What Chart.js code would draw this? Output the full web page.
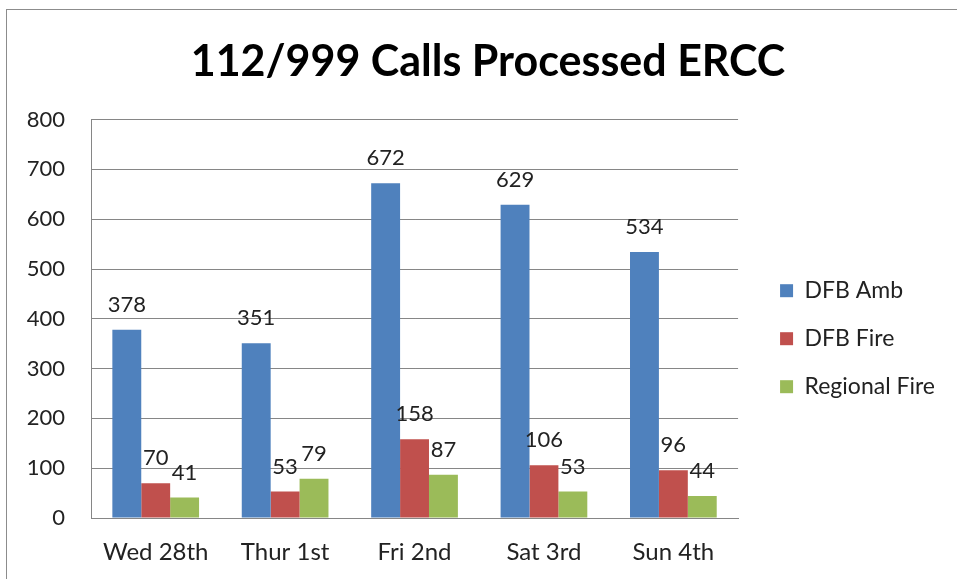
<!DOCTYPE html>
<html lang="en">
<head>
<meta charset="UTF-8">
<title>112/999 Calls Processed ERCC</title>
<script src="https://cdn.jsdelivr.net/npm/chart.js@4/dist/chart.umd.min.js"></script>
<style>
  body { margin: 0; background: #fff; }
  #wrap { position: relative; width: 957px; height: 579px; }
  #frame { position: absolute; left: 6px; top: 9px; width: 980px; height: 600px; border: 1px solid #8c8c8c; }
  canvas { position: absolute; left: 0; top: 0; }
</style>
</head>
<body>
<div id="wrap">
  <div id="frame"></div>
  <canvas id="myChart" width="957" height="579"></canvas>
</div>
<script>
// values
const days = ['Wed 28th', 'Thur 1st', 'Fri 2nd', 'Sat 3rd', 'Sun 4th'];
const dfbAmb = [378, 351, 672, 629, 534];
const dfbFire = [70, 53, 158, 106, 96];
const regionalFire = [41, 79, 87, 53, 44];

const FONT = 'Lato, "Open Sans", sans-serif';

// draw the value above each bar
const valueLabels = {
    id: 'valueLabels',
    afterDatasetsDraw(chart) {
        const ctx = chart.ctx;
        ctx.save();
        ctx.font = '22px ' + FONT;
        ctx.fillStyle = '#222';
        ctx.textAlign = 'center';
        ctx.textBaseline = 'alphabetic';
        chart.data.datasets.forEach((ds, i) => {
            chart.getDatasetMeta(i).data.forEach((bar, j) => {
                ctx.fillText(ds.data[j], bar.x, bar.y - 18);
            });
        });
        ctx.restore();
    }
};

// title sits centred on the outer frame, a bit right of the canvas centre
const titleShift = {
    id: 'titleShift',
    afterLayout(chart) {
        if (chart.titleBlock) chart.titleBlock.left += 31;
    }
};

const ctx = document.getElementById('myChart');
const myChart = new Chart(ctx, {
    type: 'bar',
    data: {
        labels: days,
        datasets: [
            { label: 'DFB Amb', data: dfbAmb, backgroundColor: '#4F81BD' },
            { label: 'DFB Fire', data: dfbFire, backgroundColor: '#C0504D' },
            { label: 'Regional Fire', data: regionalFire, backgroundColor: '#9BBB59' }
        ]
    },
    plugins: [valueLabels, titleShift],
    options: {
        responsive: false,
        animation: false,
        layout: { padding: { left: 0, right: 12, top: 0, bottom: 16 } },
        datasets: {
            bar: { barPercentage: 1, categoryPercentage: 0.67 }
        },
        scales: {
            x: {
                afterFit: s => { s.height = 45; },
                grid: { display: false, drawTicks: false },
                border: { color: '#868686' },
                ticks: { color: '#222', font: { family: FONT, size: 24 }, padding: 20 }
            },
            y: {
                min: 0,
                max: 800,
                afterFit: s => { s.width = 91; },
                grid: { color: '#868686', drawTicks: false },
                border: { color: '#868686' },
                ticks: { stepSize: 100, color: '#222', font: { family: FONT, size: 22 }, padding: 26 }
            },
            // empty spacer between the plot and the legend
            gap: {
                position: 'right',
                afterFit: s => { s.width = 17; },
                grid: { display: false, drawTicks: false },
                border: { display: false },
                ticks: { display: false }
            }
        },
        plugins: {
            title: {
                display: true,
                text: '112/999 Calls Processed ERCC',
                color: '#000',
                font: { family: FONT, size: 43, weight: 'bold', lineHeight: 1.2 },
                padding: { top: 36, bottom: 32 }
            },
            legend: {
                display: true,
                position: 'right',
                maxWidth: 260,
                title: { display: true, text: '', padding: 50 },
                labels: {
                    color: '#222',
                    font: { family: FONT, size: 23 },
                    boxWidth: 13,
                    boxHeight: 13,
                    padding: 25
                }
            },
            tooltip: { enabled: false }
        }
    }
});
</script>
</body>
</html>
